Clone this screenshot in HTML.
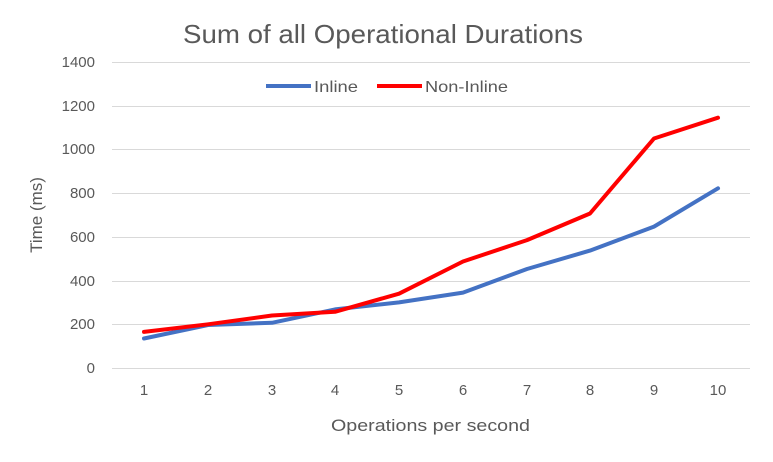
<!DOCTYPE html>
<html><head><meta charset="utf-8"><style>
body{margin:0;background:#fff;}
svg{display:block;font-family:"Liberation Sans",sans-serif;}
</style></head><body>
<svg width="773" height="462" viewBox="0 0 773 462">
<rect width="773" height="462" fill="#fff"/>
<text x="183" y="43" textLength="400" lengthAdjust="spacingAndGlyphs" font-size="26" fill="#595959">Sum of all Operational Durations</text>
<g stroke="#d9d9d9" stroke-width="1">
<line x1="112" x2="750" y1="62.5" y2="62.5"/>
<line x1="112" x2="750" y1="106.5" y2="106.5"/>
<line x1="112" x2="750" y1="149.5" y2="149.5"/>
<line x1="112" x2="750" y1="193.5" y2="193.5"/>
<line x1="112" x2="750" y1="237.5" y2="237.5"/>
<line x1="112" x2="750" y1="281.5" y2="281.5"/>
<line x1="112" x2="750" y1="324.5" y2="324.5"/>
<line x1="112" x2="750" y1="368.5" y2="368.5"/>
</g>
<g font-size="15" fill="#595959" text-anchor="end">
<text x="95" y="67">1400</text><text x="95" y="111">1200</text><text x="95" y="154">1000</text>
<text x="95" y="198">800</text><text x="95" y="242">600</text><text x="95" y="286">400</text>
<text x="95" y="329">200</text><text x="95" y="373">0</text>
</g>
<g font-size="15" fill="#595959" text-anchor="middle">
<text x="144" y="395">1</text><text x="208" y="395">2</text><text x="272" y="395">3</text>
<text x="335" y="395">4</text><text x="399" y="395">5</text><text x="463" y="395">6</text>
<text x="527" y="395">7</text><text x="590" y="395">8</text><text x="654" y="395">9</text>
<text x="718" y="395">10</text>
</g>
<text x="331" y="431" textLength="199" lengthAdjust="spacingAndGlyphs" font-size="17" fill="#595959">Operations per second</text>
<text transform="translate(42,215) rotate(-90)" text-anchor="middle" font-size="17" fill="#595959">Time (ms)</text>
<polyline fill="none" stroke="#4472c4" stroke-width="4" stroke-linejoin="round" stroke-linecap="round"
points="144,338.5 208,325 272,322.8 335,309.4 399,302.4 463,292.6 527,269 590,250.6 654,226.6 718,188.3"/>
<polyline fill="none" stroke="#ff0000" stroke-width="4" stroke-linejoin="round" stroke-linecap="round"
points="144,331.9 208,324.3 272,315.5 335,311.8 399,293.7 463,261.5 527,240.1 590,213.5 654,138.5 718,117.7"/>
<line x1="266" x2="311" y1="86" y2="86" stroke="#4472c4" stroke-width="4"/>
<text x="314" y="92" font-size="16" textLength="44" lengthAdjust="spacingAndGlyphs" fill="#595959">Inline</text>
<line x1="377" x2="422" y1="86" y2="86" stroke="#ff0000" stroke-width="4"/>
<text x="425" y="92" font-size="16" textLength="83" lengthAdjust="spacingAndGlyphs" fill="#595959">Non-Inline</text>
</svg>
</body></html>
